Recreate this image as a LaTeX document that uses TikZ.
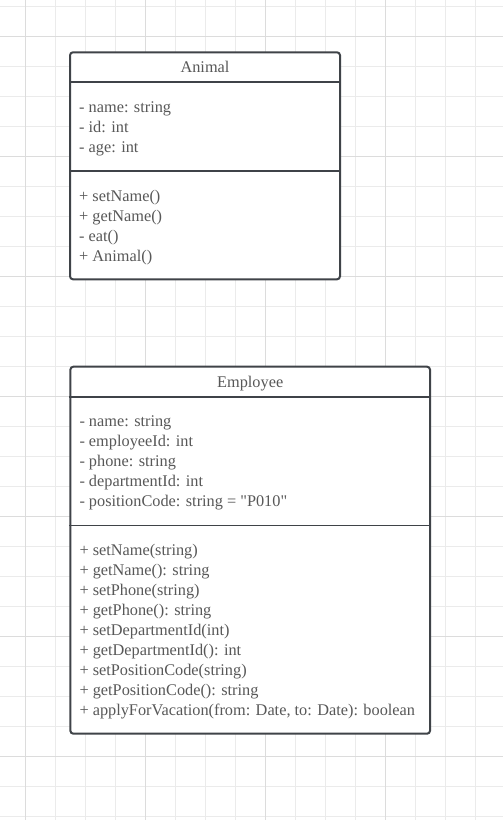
\documentclass[tikz,border=0pt]{standalone}
\usepackage{fontspec}
\setmainfont{Liberation Serif}[Ligatures=TeXOff]
\definecolor{gridminor}{HTML}{EBEBEB}
\definecolor{gridmajor}{HTML}{DCDCDC}
\definecolor{boxline}{HTML}{3F4348}
\definecolor{boxtext}{HTML}{585858}
\tikzstyle{grid_minor} = [gridminor, line width=1pt]
\tikzstyle{grid_major} = [gridmajor, line width=1pt]
\tikzstyle{class_box} = [rectangle, draw=boxline, fill=white, line width=2pt, rounded corners=3pt, inner sep=0pt]
\tikzstyle{class_line} = [boxline, line width=2pt]
\tikzstyle{class_title} = [anchor=base, text=boxtext, inner sep=0pt, font=\fontsize{16.3}{20}\selectfont]
\tikzstyle{class_member} = [anchor=base west, text=boxtext, inner sep=0pt, font=\fontsize{16.3}{20}\selectfont]
\begin{document}
\begin{tikzpicture}[x=1pt, y=-1pt]
			\useasboundingbox (0,0) rectangle (503,820);
			\fill[white] (0,0) rectangle (503,820);
			
			% grid
			\foreach \x in {25.7,55.7,...,480} \draw[grid_minor] (\x,0) -- (\x,820);
			\foreach \y in {6,36,...,820} \draw[grid_minor] (0,\y) -- (503,\y);
			\foreach \x in {25.7,145.7,265.7,385.7} \draw[grid_major] (\x,0) -- (\x,820);
			\foreach \y in {36,156,276,396,516,636,756} \draw[grid_major] (0,\y) -- (503,\y);
			
			% Animal
			\node (A) at (205,165.8) [class_box, minimum width=270pt, minimum height=227pt] {};
			\draw[class_line] (A.north west) ++(0,31) -- ++(270,0);
			\draw[class_line, line width=1.6pt] (A.north west) ++(0,119.7) -- ++(270,0);
			\node (AT) at (205,72.3) [class_title] {Animal};
			\node (A1) at (79,112.3) [class_member] {- name: string};
			\node (A2) at (79,132.3) [class_member] {- id: int};
			\node (A3) at (79,152.3) [class_member] {- age: int};
			\node (A4) at (79,201.4) [class_member] {+ setName()};
			\node (A5) at (79,221.4) [class_member] {+ getName()};
			\node (A6) at (79,241.4) [class_member] {- eat()};
			\node (A7) at (79,261.4) [class_member] {+ Animal()};
			
			% Employee
			\node (E) at (250.2,550.2) [class_box, minimum width=359.7pt, minimum height=367pt] {};
			\draw[class_line] (E.north west) ++(0,31.6) -- ++(359.7,0);
			\draw[class_line, line width=1.6pt] (E.north west) ++(0,159.6) -- ++(359.7,0);
			\node (ET) at (250.2,387.3) [class_title] {Employee};
			\node (E1) at (79.3,426.7) [class_member] {- name: string};
			\node (E2) at (79.3,446.7) [class_member] {- employeeId: int};
			\node (E3) at (79.3,466.7) [class_member] {- phone: string};
			\node (E4) at (79.3,486.7) [class_member] {- departmentId: int};
			\node (E5) at (79.3,506.7) [class_member] {- positionCode: string = "P010"};
			\node (E6) at (79.3,555.7) [class_member] {+ setName(string)};
			\node (E7) at (79.3,575.7) [class_member] {+ getName(): string};
			\node (E8) at (79.3,595.7) [class_member] {+ setPhone(string)};
			\node (E9) at (79.3,615.7) [class_member] {+ getPhone(): string};
			\node (E10) at (79.3,635.7) [class_member] {+ setDepartmentId(int)};
			\node (E11) at (79.3,655.7) [class_member] {+ getDepartmentId(): int};
			\node (E12) at (79.3,675.7) [class_member] {+ setPositionCode(string)};
			\node (E13) at (79.3,695.7) [class_member] {+ getPositionCode(): string};
			\node (E14) at (79.3,715.7) [class_member] {+ applyForVacation(from: Date, to: Date): boolean};
		\end{tikzpicture}
\end{document}
